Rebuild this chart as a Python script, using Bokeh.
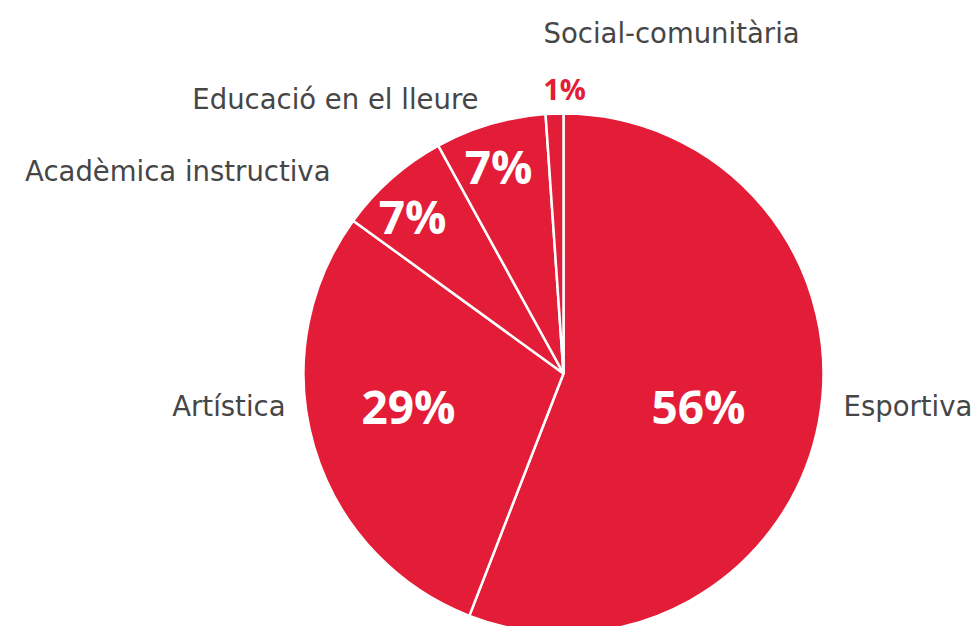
import numpy as np
from bokeh.plotting import figure
from bokeh.models import Range1d, ColumnDataSource
from bokeh.core.properties import value
from bokeh.embed import file_html
from bokeh.resources import INLINE

# ---- data ----
categories = ["Esportiva", "Artística", "Acadèmica instructiva", "Educació en el lleure", "Social-comunitària"]
shares = [55.9, 29.1, 7.0, 6.9, 1.1]
pct_labels = ["56%", "29%", "7%", "7%", "1%"]

# ---- style / layout ----
W, H = 973, 626
CX, CY, R = 563, -373, 260
RED = "#e31d37"
GREY = "#464646"
LABEL_FONT = "DejaVu Sans"
PCT_FONT = "Open Sans"

# label offsets from pie center (pixels, y down)
cat_off = [(280, 32), (-278, 32), (-233, -203), (-85, -275), (-20, -341)]
cat_align = ["left", "right", "right", "right", "left"]
pct_off = [(135, 32), (-155, 32), (-151, -158), (-65, -208), (1, -285)]
pct_inside = [True, True, True, True, False]

vals = np.array(shares, dtype=float)
frac = vals / vals.sum()
cum = np.concatenate([[0.0], np.cumsum(frac)])
start = np.pi / 2 - cum[:-1] * 2 * np.pi
end = np.pi / 2 - cum[1:] * 2 * np.pi

p = figure(width=W, height=H, output_backend="svg", toolbar_location=None,
           x_range=Range1d(0, W), y_range=Range1d(-H, 0),
           x_axis_location=None, y_axis_location=None, min_border=0)
p.grid.visible = False
p.outline_line_color = None
p.background_fill_color = "white"
p.border_fill_color = "white"

src = ColumnDataSource(dict(start=start, end=end, cat=categories))
p.wedge(x=CX, y=CY, radius=R, start_angle="start", end_angle="end",
        direction="clock", fill_color=RED, line_color="white", line_width=2.5, source=src)

# category labels
p.text(x=[CX + o[0] for o in cat_off], y=[CY - o[1] for o in cat_off], text=categories,
       text_align=cat_align, text_baseline="middle", text_font=value(LABEL_FONT),
       text_font_size="27.5px", text_color=GREY)

# percentage labels
ins = [i for i in range(len(pct_labels)) if pct_inside[i]]
outs = [i for i in range(len(pct_labels)) if not pct_inside[i]]
p.text(x=[CX + pct_off[i][0] for i in ins], y=[CY - pct_off[i][1] for i in ins],
       text=[pct_labels[i] for i in ins], text_align="center", text_baseline="middle",
       text_font=value(PCT_FONT), text_font_style="bold", text_font_size="46px", text_color="white")
p.text(x=[CX + pct_off[i][0] for i in outs], y=[CY - pct_off[i][1] for i in outs],
       text=[pct_labels[i] for i in outs], text_align="center", text_baseline="middle",
       text_font=value(PCT_FONT), text_font_style="bold", text_font_size="29px", text_color=RED)

open("out.html", "w").write(file_html(p, INLINE))
